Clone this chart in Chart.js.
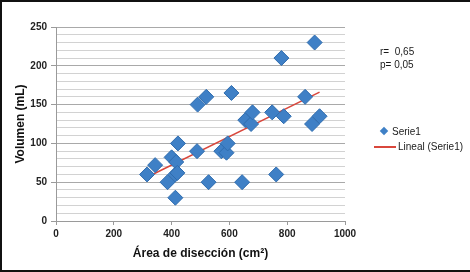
<!DOCTYPE html>
<html>
<head>
<meta charset="utf-8">
<script src="https://cdn.jsdelivr.net/npm/chart.js@4"></script>
<style>
  body { margin: 0; background: #fff; }
  #wrap { position: relative; width: 470px; height: 272px; box-sizing: border-box;
          border-top: 2px solid #111; border-left: 2px solid #111; border-bottom: 2px solid #111; }
  #chart { position: absolute; left: 0; top: 0; }
  .txt { position: absolute; font: 10px "Liberation Sans", Arial, sans-serif; color: #1a1a1a; white-space: nowrap; line-height: 12px; }
  .dia { position: absolute; width: 6px; height: 6px; background: #3f80c6; transform: rotate(45deg); }
  .ln { position: absolute; height: 2px; background: #d9473c; }
</style>
</head>
<body>
<div id="wrap">
  <canvas id="chart" width="470" height="272"></canvas>
  <div class="txt" style="left:378px; top:44px;">r=&nbsp; 0,65</div>
  <div class="txt" style="left:378px; top:57px;">p= 0,05</div>
  <div class="dia" style="left:379px; top:126px;"></div>
  <div class="txt" style="left:390px; top:124px;">Serie1</div>
  <div class="ln" style="left:372px; top:144px; width:22px;"></div>
  <div class="txt" style="left:396px; top:139px;">Lineal (Serie1)</div>
</div>
<script>
// Area (cm2) vs volume (mL)
const areaValues = [315, 343, 386, 400, 416, 413, 422, 413, 420, 488, 490, 520, 528, 572, 590, 594, 607, 644, 655, 675, 680, 748, 762, 780, 788, 862, 886, 895, 912];
const volumeValues = [60, 72, 50, 82, 76, 60, 100, 30, 62, 90, 150, 160, 50, 90, 88, 100, 165, 50, 130, 125, 140, 140, 60, 210, 135, 160, 125, 230, 135];

// Linear trend line end points
const trendX = [318, 912];
const trendY = [57, 166];

const yTicks = [0, 50, 100, 150, 200, 250];
const xTicks = [0, 200, 400, 600, 800, 1000];

const points = areaValues.map((x, i) => ({ x: x, y: volumeValues[i] }));
const trend = trendX.map((x, i) => ({ x: x, y: trendY[i] }));

const ctx = document.getElementById("chart").getContext("2d");

const chart = new Chart(ctx, {
  type: "scatter",
  data: {
    datasets: [
      {
        label: "Serie1",
        data: points,
        pointStyle: "rectRot",
        pointRadius: 7.5,
        backgroundColor: "#3f80c6",
        borderColor: "#2f6cae",
        borderWidth: 1,
      },
      {
        label: "Lineal (Serie1)",
        type: "line",
        data: trend,
        borderColor: "#d9473c",
        borderWidth: 1.5,
        pointRadius: 0,
        fill: false,
      },
    ],
  },
  options: {
    responsive: false,
    animation: false,
    layout: { padding: { left: 2, top: 25, right: 127, bottom: 0 } },
    plugins: { legend: { display: false }, tooltip: { enabled: false } },
    scales: {
      x: {
        type: "linear",
        min: 0,
        max: 1000,
        afterFit: (scale) => { scale.height = 53; },
        afterBuildTicks: (scale) => { scale.ticks = xTicks.map((v) => ({ value: v })); },
        grid: { drawOnChartArea: false, drawTicks: true, tickLength: 4, color: "#9a9a9a" },
        border: { color: "#9a9a9a" },
        ticks: {
          color: "#222",
          padding: 3,
          font: { family: "Liberation Sans", size: 10, weight: "bold" },
          callback: (v) => String(v),
        },
        title: {
          display: true,
          text: "Área de disección (cm²)",
          color: "#111",
          padding: { top: 0, bottom: 13 },
          font: { family: "Liberation Sans", size: 12, weight: "bold" },
        },
      },
      y: {
        min: 0,
        max: 250,
        afterFit: (scale) => { scale.width = 52; },
        grid: {
          color: (c) => (c.tick && c.tick.value % 50 === 0 ? "#a9a9a9" : "#d2d2d2"),
          tickColor: (c) => (c.tick && c.tick.value % 50 === 0 ? "#9a9a9a" : "rgba(0,0,0,0)"),
          tickLength: 5,
        },
        border: { color: "#9a9a9a" },
        ticks: {
          stepSize: 10,
          autoSkip: false,
          padding: 4,
          color: "#222",
          font: { family: "Liberation Sans", size: 10, weight: "bold" },
          callback: (v) => (yTicks.includes(v) ? v : ""),
        },
        title: {
          display: true,
          text: "Volumen (mL)",
          color: "#111",
          padding: { top: 9, bottom: 0 },
          font: { family: "Liberation Sans", size: 12, weight: "bold" },
        },
      },
    },
  },
});
</script>
</body>
</html>
